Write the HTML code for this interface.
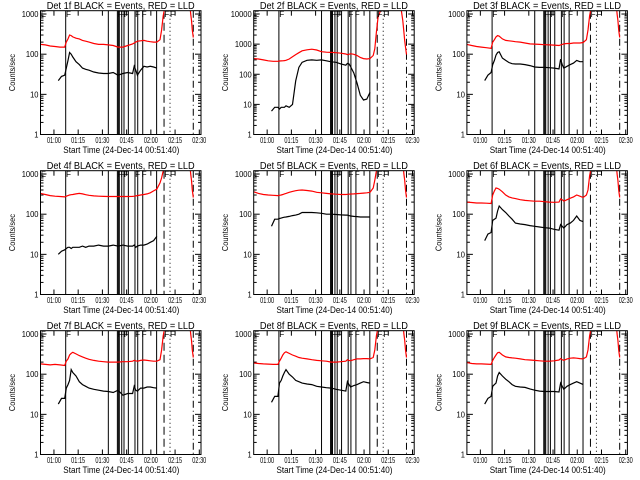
<!DOCTYPE html>
<html><head><meta charset="utf-8"><style>
html,body{margin:0;padding:0;background:#fff;}
svg{display:block;font-family:"Liberation Sans",sans-serif;}
</style></head><body>
<svg id="chart" width="640" height="480" viewBox="0 0 640 480" xmlns="http://www.w3.org/2000/svg"></svg>
<script>
const detNames = ["1f","2f","3f","4f","5f","6f","7f","8f","9f"];
const xTickLabels = ["01:00","01:15","01:30","01:45","02:00","02:15","02:30"];
const xTickMinutes = [8.33,23.33,38.33,53.33,68.33,83.33,98.33];
const blackT = [11,13,15,16,17,18,19,20,22,24,26,28,30,33,36,39,42,45,48,51,54,57,58,59,60,62,64,66,68,70,72];
const redT = [0,3,6,9,12,15,16,17,18,19,20,22,24,26,28,30,33,36,39,42,45,48,51,54,57,58,59,60,62,64,66,68,70,72,74,75,76,77,79];
const tailT = [90.5,91.5,92.3,93,93.5,94,94.6];
const black1 = [22,28,30,45,70,110,100,85,65,55,45,42,40,36,34,33,33,35,30,33,35,33,50,40,30,40,50,48,50,48,45];
const black2 = [6,8,8,7,8,8,8,9,8,10,60,170,250,290,300,290,300,280,260,250,220,200,230,220,180,110,50,20,14,15,25];
const black3 = [22,30,35,55,70,95,110,115,80,70,62,58,57,57,55,52,48,47,47,46,45,43,75,55,45,50,55,60,70,65,65];
const black4 = [10,12,13,14,15,15,14,15,15,15,16,15,16,16,17,16,16,17,16,17,16,16,17,15,16,17,17,18,20,22,28];
const black5 = [50,75,75,78,80,82,84,85,88,92,95,100,110,110,110,108,105,100,100,98,96,95,95,92,90,88,87,85,85,85,85];
const black6 = [22,32,35,70,75,80,120,160,130,110,90,75,60,57,55,52,50,48,46,45,42,40,55,50,45,55,60,70,90,70,65];
const black7 = [18,25,25,45,55,70,130,110,90,65,55,50,45,42,40,38,37,35,40,30,33,33,50,40,38,45,45,48,48,46,45];
const black8 = [20,28,28,60,70,90,110,130,100,85,70,65,60,57,55,50,48,46,45,42,40,38,65,55,48,52,55,60,65,62,60];
const black9 = [18,25,28,50,55,60,90,110,90,75,65,55,50,48,47,43,40,38,37,37,37,36,60,50,42,50,55,60,65,60,55];
const red1 = [175,170,160,155,150,150,200,240,300,290,270,250,240,220,210,200,185,175,175,170,165,150,150,165,180,190,200,210,215,220,210,205,200,200,230,400,900,1500,2000];
const red2 = [330,320,300,280,270,270,275,278,280,285,290,320,380,450,520,600,650,680,640,560,540,530,520,500,470,450,460,480,460,420,360,330,320,330,420,700,2500,8000,15000];
const red3 = [175,165,155,150,145,140,200,230,270,290,280,240,220,215,210,205,200,190,180,178,175,172,170,168,165,170,175,180,185,185,190,190,190,195,230,400,900,1500,2000];
const red4 = [330,310,290,280,275,270,280,290,300,305,310,320,330,320,305,295,285,280,278,276,275,275,275,276,278,280,285,290,300,310,320,340,380,420,600,800,1200,1500,2000];
const red5 = [360,330,310,300,295,290,295,300,310,320,330,350,370,385,395,400,390,375,350,340,330,320,315,310,310,312,315,318,320,325,330,335,340,350,450,700,1200,1500,2000];
const red6 = [200,195,190,190,188,185,300,380,450,440,420,360,300,270,255,245,230,220,215,210,210,205,200,198,200,240,230,210,230,250,270,300,280,260,300,400,900,1500,2000];
const red7 = [180,175,170,175,170,165,210,240,300,330,350,320,290,270,250,235,220,210,205,200,200,200,205,205,210,220,215,210,220,225,220,215,210,210,230,400,900,1500,2000];
const red8 = [190,185,180,178,175,175,210,250,300,340,360,330,300,280,260,250,240,230,220,215,210,200,200,205,210,230,220,215,230,240,240,245,245,240,260,400,900,1500,2000];
const red9 = [195,185,180,180,178,175,220,260,300,340,350,300,270,260,255,250,240,230,225,220,215,210,210,215,225,245,230,220,240,250,255,250,245,240,270,400,900,1500,2000];
const tail1 = [5000,3000,2000,1000,700,400,260];
const tail2 = [20000,12000,6000,2500,1300,800,450];
const blackSeries = [black1,black2,black3,black4,black5,black6,black7,black8,black9];
const redSeries = [red1,red2,red3,red4,red5,red6,red7,red8,red9];
const tailSeries = [tail1,tail2,tail1,tail1,tail1,tail1,tail1,tail1,tail1];
const solidLinesT = [15.6,42,47.6,48.2,48.8,50.3,51.7,54.4,58.5,60.2,63.3,71.9];
const dashedT = 76.5, dottedT = 80.2, dashDotT = 94.6;
const flagT = [0.3,15.8,47.6,49.6,51.6,58.6,62.6,76.6,80.2];
const flagText = ["E","F","F","F","F","F","F","F","F"];

const NS = "http://www.w3.org/2000/svg";
const svg = document.getElementById("chart");
function mk(tag, attrs, parent){const e=document.createElementNS(NS,tag);for(const k in attrs)e.setAttribute(k,attrs[k]);(parent||svg).appendChild(e);return e;}

detNames.forEach((det, i) => {
  const col = i % 3, row = Math.floor(i / 3);
  const ox = col * 213.2, oy = row * 160;
  const L = ox + 40.5, R = ox + 201, T = oy + 10.7, B = oy + 134.5;
  const isBig = i === 1;
  const logMax = isBig ? 4.11 : 3.083;
  const xs = t => L + t * 1.615;
  const ys = v => B - Math.log10(v) / logMax * (B - T);
  const g = mk("g", {});
  
  
  const clipId = "clip" + i;
  const cp = mk("clipPath", {id: clipId}, g);
  mk("rect", {x: L, y: T, width: R - L, height: B - T}, cp);

  const title = mk("text", {x: ox + 46.7, y: oy + 9, "font-size": 10.5, textLength: 148, lengthAdjust: "spacingAndGlyphs"}, g);
  title.textContent = "Det " + det + " BLACK = Events, RED = LLD";
  
  

  const xl = mk("text", {x: ox + 63.3, y: oy + 153, "font-size": 9.5, textLength: 116, lengthAdjust: "spacingAndGlyphs"}, g);
  xl.textContent = "Start Time (24-Dec-14 00:51:40)";
  
  

  const cy = (T + B) / 2;
  const yl = mk("text", {x: -18.5, y: 0, "font-size": 8.5, textLength: 37, lengthAdjust: "spacingAndGlyphs", transform: "translate(" + (ox + 15) + "," + cy + ") rotate(-90)"}, g);
  yl.textContent = "Counts/sec";
  
  

  xTickLabels.forEach((lab, k) => {
    const x = xs(xTickMinutes[k]);
    if (x > R + 1) return;
    mk("line", {x1: x, y1: B, x2: x, y2: B - 5, stroke: "#000"}, g);
    mk("line", {x1: x, y1: T, x2: x, y2: T + 5, stroke: "#000"}, g);
    const tl = mk("text", {x: x - 7, y: B + 8.5, "font-size": 8.5, textLength: 14, lengthAdjust: "spacingAndGlyphs"}, g);
    tl.textContent = lab;
    
    
  });
  const decades = isBig ? [1,10,100,1000,10000] : [1,10,100,1000];
  decades.forEach(d => {
    const y = ys(d);
    mk("line", {x1: L, y1: y, x2: L + 6, y2: y, stroke: "#000"}, g);
    mk("line", {x1: R, y1: y, x2: R - 6, y2: y, stroke: "#000"}, g);
    const s = String(d);
    const w = s.length * 4.2;
    const tl = mk("text", {x: L - 2 - w, y: y + 3, "font-size": 8.5, textLength: w, lengthAdjust: "spacingAndGlyphs"}, g);
    tl.textContent = s;
    
    
    if (d < decades[decades.length - 1]) {
      for (let m = 2; m <= 9; m++) {
        const ym = ys(d * m);
        mk("line", {x1: L, y1: ym, x2: L + 3, y2: ym, stroke: "#000"}, g);
        mk("line", {x1: R, y1: ym, x2: R - 3, y2: ym, stroke: "#000"}, g);
      }
    }
  });

  const inner = mk("g", {"clip-path": "url(#" + clipId + ")"}, g);
  solidLinesT.forEach(t => {
    const vl = mk("line", {x1: xs(t), y1: T, x2: xs(t), y2: B, stroke: "#000", "stroke-width": 1}, inner);
    
    
  });
  const dl = mk("line", {x1: xs(dashedT), y1: T, x2: xs(dashedT), y2: B, stroke: "#000", "stroke-dasharray": "8,4"}, inner);
  
  
  const dt = mk("line", {x1: xs(dottedT), y1: T, x2: xs(dottedT), y2: B, stroke: "#000", "stroke-dasharray": "1,3"}, inner);
  
  
  const dd = mk("line", {x1: xs(dashDotT), y1: T, x2: xs(dashDotT), y2: B, stroke: "#000", "stroke-dasharray": "7,3,1,3"}, inner);
  
  

  flagT.forEach((t, k) => {
    const f = mk("text", {x: xs(t), y: T + 6.5, "font-size": 8, textLength: 5, lengthAdjust: "spacingAndGlyphs"}, g);
    f.textContent = flagText[k];
    
    
  });

  const rd = redSeries[i].map((v, k) => xs(redT[k]).toFixed(1) + "," + ys(v).toFixed(1)).join(" ");
  const rp = mk("polyline", {points: rd, fill: "none", stroke: "#ff0000", "stroke-width": 1.2}, inner);
  
  
  const td = tailSeries[i].map((v, k) => xs(tailT[k]).toFixed(1) + "," + ys(v).toFixed(1)).join(" ");
  const tp = mk("polyline", {points: td, fill: "none", stroke: "#ff0000", "stroke-width": 1.2}, inner);
  
  
  const bd = blackSeries[i].map((v, k) => xs(blackT[k]).toFixed(1) + "," + ys(v).toFixed(1)).join(" ");
  const bp = mk("polyline", {points: bd, fill: "none", stroke: "#000", "stroke-width": 1.2}, inner);
  
  

  const frame = mk("rect", {x: L, y: T, width: R - L, height: B - T, fill: "none", stroke: "#000", "stroke-width": 1}, g);
  
  
});
</script>
</body></html>
